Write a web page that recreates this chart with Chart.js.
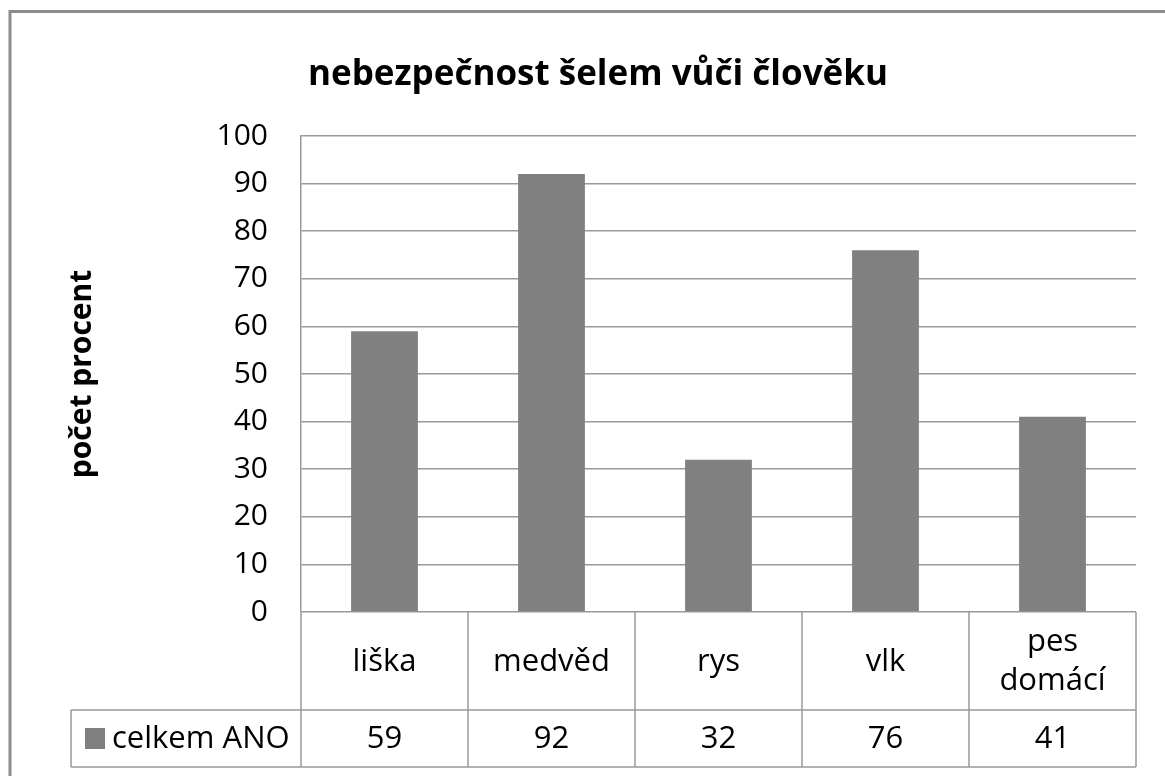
<!DOCTYPE html>
<html>
<head>
<meta charset="utf-8">
<script src="https://cdn.jsdelivr.net/npm/chart.js@4"></script>
<style>
  html, body { margin: 0; padding: 0; background: #fff; overflow: hidden; }
  #wrap { width: 1165px; height: 776px; }
</style>
</head>
<body>
<div id="wrap"><canvas id="chart"></canvas></div>
<script>
// data
const categories = [["liška"], ["medvěd"], ["rys"], ["vlk"], ["pes", "domácí"]];
const values = [59, 92, 32, 76, 41];
const seriesName = "celkem ANO";
const chartTitle = "nebezpečnost šelem vůči člověku";
const yTitle = "počet procent";
const yMin = 0, yMax = 100, yStep = 10;

const FONT = "'Open Sans', 'DejaVu Sans', sans-serif";
const BAR = "#808080";
const LINE = "#999999";

// rámeček kolem celého grafu
const framePlugin = {
  id: "frame",
  beforeDraw(chart) {
    const ctx = chart.ctx;
    ctx.save();
    ctx.fillStyle = "#fff";
    ctx.fillRect(0, 0, chart.width, chart.height);
    ctx.strokeStyle = "#8c8c8c";
    ctx.lineWidth = 3;
    ctx.strokeRect(10, 11.5, 1300, 900);
    ctx.restore();
  },
};

// tabulka dat pod grafem
const tablePlugin = {
  id: "dataTable",
  afterDraw(chart) {
    const { ctx, chartArea } = chart;
    const x = chart.scales.x;
    const top = chartArea.bottom;
    const mid = top + 98;
    const bottom = mid + 57;
    const legendLeft = 71;
    const step = (chartArea.right - chartArea.left) / categories.length;

    ctx.save();
    ctx.strokeStyle = LINE;
    ctx.lineWidth = 1.5;
    ctx.beginPath();
    ctx.moveTo(legendLeft, mid);
    ctx.lineTo(chartArea.right, mid);
    ctx.moveTo(legendLeft, bottom);
    ctx.lineTo(chartArea.right, bottom);
    ctx.moveTo(legendLeft, mid);
    ctx.lineTo(legendLeft, bottom);
    for (let i = 0; i <= categories.length; i++) {
      const lx = chartArea.left + i * step;
      ctx.moveTo(lx, top);
      ctx.lineTo(lx, bottom);
    }
    ctx.stroke();

    ctx.fillStyle = "#000";
    ctx.font = "31px " + FONT;
    ctx.textAlign = "center";
    ctx.textBaseline = "middle";
    categories.forEach((lines, i) => {
      const cx = x.getPixelForValue(i);
      const cy = (top + mid) / 2 + 1;
      const lh = 39;
      lines.forEach((t, j) => {
        ctx.fillText(t, cx, cy + (j - (lines.length - 1) / 2) * lh);
      });
      ctx.fillText(String(values[i]), cx, (mid + bottom) / 2 + 1);
    });

    // legenda
    ctx.fillStyle = BAR;
    ctx.fillRect(85, 728, 20, 21);
    ctx.fillStyle = "#000";
    ctx.textAlign = "left";
    ctx.fillText(seriesName, 112, (mid + bottom) / 2 + 1);
    ctx.restore();
  },
};

new Chart(document.getElementById("chart"), {
  type: "bar",
  data: {
    labels: categories,
    datasets: [
      {
        label: seriesName,
        data: values,
        backgroundColor: BAR,
        borderWidth: 0,
        categoryPercentage: 0.4,
        barPercentage: 1.0,
      },
    ],
  },
  options: {
    responsive: true,
    maintainAspectRatio: false,
    animation: false,
    layout: {
      padding: { left: 60, right: 29, top: 0, bottom: 164 },
    },
    plugins: {
      legend: { display: false },
      tooltip: { enabled: false },
      title: {
        display: true,
        text: chartTitle,
        color: "#000",
        font: { family: FONT, size: 35, weight: "bold" },
        padding: { top: 54, bottom: 40 },
      },
    },
    scales: {
      x: {
        display: false,
      },
      y: {
        min: yMin,
        max: yMax,
        afterFit(scale) {
          scale.width = 241;
        },
        ticks: {
          stepSize: yStep,
          color: "#000",
          padding: 33,
          font: { family: FONT, size: 30 },
        },
        grid: {
          color: LINE,
          lineWidth: 1.5,
          drawTicks: false,
        },
        border: { display: true, color: LINE, width: 1.5 },
        title: {
          display: true,
          text: yTitle,
          color: "#000",
          font: { family: FONT, size: 30, weight: "bold" },
          padding: { top: 4, bottom: 4 },
        },
      },
    },
  },
  plugins: [framePlugin, tablePlugin],
});
</script>
</body>
</html>
